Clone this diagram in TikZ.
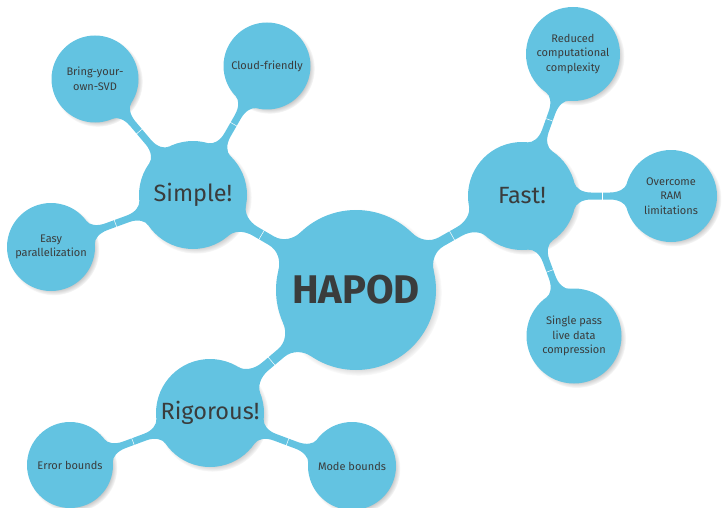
\documentclass[tikz,border=0pt]{standalone}
\usepackage{fontspec}
\setmainfont{Fira Sans}
\usetikzlibrary{calc,shadows}
\definecolor{cb}{RGB}{99,195,225}
\definecolor{tx}{RGB}{58,60,60}
\tikzset{
  bub/.style={circle, fill=cb, draw=none, inner sep=0pt, align=center, text=tx,
    circular drop shadow={shadow xshift=2.5pt, shadow yshift=-2.5pt, shadow scale=1.04, opacity=0.5}},
  leaf/.style={bub, font=\fontsize{11}{14.5}\selectfont},
  midc/.style={bub, minimum size=108pt, font=\fontsize{23.5}{28}\selectfont},
  hub/.style={bub, minimum size=160pt, font=\fontsize{40}{48}\bfseries\selectfont},
  tickline/.style={white, line width=0.5pt}
}
% #1 parent, #2 child, #3 r parent, #4 r child, #5 half width, #6 spread parent, #7 spread child, #8 flare length
\newcommand\conbar[8]{%
  \pgfmathsetmacro\cbA{asin(#6/#3)}%
  \pgfmathsetmacro\cbB{asin(#7/#4)}%
  \pgfmathsetmacro\tPA{#3*cos(\cbA)}%
  \pgfmathsetmacro\tCA{#3*cos(\cbA)+0.55*(#6-#5)*sin(\cbA)}%
  \pgfmathsetmacro\sCA{#6-0.55*(#6-#5)*cos(\cbA)}%
  \pgfmathsetmacro\tQA{#3+#8}%
  \pgfmathsetmacro\tDA{#3+#8*0.4}%
  \pgfmathsetmacro\tPB{#4*cos(\cbB)}%
  \pgfmathsetmacro\tCB{#4*cos(\cbB)+0.55*(#7-#5)*sin(\cbB)}%
  \pgfmathsetmacro\sCB{#7-0.55*(#7-#5)*cos(\cbB)}%
  \pgfmathsetmacro\tQB{#4+#8}%
  \pgfmathsetmacro\tDB{#4+#8*0.4}%
  \pgfmathsetmacro\dm{(#3-#4)/2+2}%
  \pgfmathsetmacro\hh{#5+0.8}%
  \fill[cb]
   ($(#1)!\tPA pt!(#2)!#6pt!90:(#2)$)
   .. controls ($(#1)!\tCA pt!(#2)!\sCA pt!90:(#2)$) and ($(#1)!\tDA pt!(#2)!#5pt!90:(#2)$)
   .. ($(#1)!\tQA pt!(#2)!#5pt!90:(#2)$)
   -- ($(#2)!\tQB pt!(#1)!#5pt!-90:(#1)$)
   .. controls ($(#2)!\tDB pt!(#1)!#5pt!-90:(#1)$) and ($(#2)!\tCB pt!(#1)!\sCB pt!-90:(#1)$)
   .. ($(#2)!\tPB pt!(#1)!#7pt!-90:(#1)$)
   -- ($(#2)!\tPB pt!(#1)!#7pt!90:(#1)$)
   .. controls ($(#2)!\tCB pt!(#1)!\sCB pt!90:(#1)$) and ($(#2)!\tDB pt!(#1)!#5pt!90:(#1)$)
   .. ($(#2)!\tQB pt!(#1)!#5pt!90:(#1)$)
   -- ($(#1)!\tQA pt!(#2)!#5pt!-90:(#2)$)
   .. controls ($(#1)!\tDA pt!(#2)!#5pt!-90:(#2)$) and ($(#1)!\tCA pt!(#2)!\sCA pt!-90:(#2)$)
   .. ($(#1)!\tPA pt!(#2)!#6pt!-90:(#2)$) -- cycle;
  \draw[tickline] ($(#1)!0.5!(#2)!\dm pt!(#2)!\hh pt!90:(#2)$) -- ($(#1)!0.5!(#2)!\dm pt!(#2)!\hh pt!-90:(#2)$);
}
\begin{document}
\begin{tikzpicture}[x=1pt,y=-1pt]
\useasboundingbox (0,0) rectangle (722,508);
% nodes
\node[hub] (hapod) at (356,290) {HAPOD};
\node[midc] (simple) at (193,195) {Simple!};
\node[midc] (fast) at (522,196) {Fast!};
\node[midc] (rigor) at (210,413) {Rigorous!};
\node[leaf, minimum size=87pt] (bring) at (95,79) {Bring-your-\\own-SVD};
\node[leaf, minimum size=87pt] (cloud) at (267,66) {Cloud-friendly};
\node[leaf, minimum size=88pt] (easy) at (51,247) {Easy\\parallelization};
\node[leaf, minimum size=94pt] (reduced) at (573,54) {Reduced\\computational\\complexity};
\node[leaf, minimum size=92pt] (overcome) at (671,196) {Overcome\\RAM\\limitations};
\node[leaf, minimum size=95pt] (single) at (574,336) {Single pass\\live data\\compression};
\node[leaf, minimum size=86pt] (error) at (70,465) {Error bounds};
\node[leaf, minimum size=88pt] (mode) at (352,466) {Mode bounds};
% connectors
\conbar{hapod}{simple}{80}{54}{5}{22}{17}{18}
\conbar{hapod}{fast}{80}{54}{5}{22}{17}{18}
\conbar{hapod}{rigor}{80}{54}{5}{22}{17}{18}
\conbar{simple}{bring}{54}{43.5}{3.5}{13}{12}{15}
\conbar{simple}{cloud}{54}{43.5}{3.5}{13}{12}{15}
\conbar{simple}{easy}{54}{44}{3.5}{13}{12}{15}
\conbar{fast}{reduced}{54}{47}{3.5}{13}{12}{15}
\conbar{fast}{overcome}{54}{46}{3.5}{13}{12}{15}
\conbar{fast}{single}{54}{47.5}{3.5}{13}{12}{15}
\conbar{rigor}{error}{54}{43}{3.5}{13}{12}{15}
\conbar{rigor}{mode}{54}{44}{3.5}{13}{12}{15}
\end{tikzpicture}
\end{document}
